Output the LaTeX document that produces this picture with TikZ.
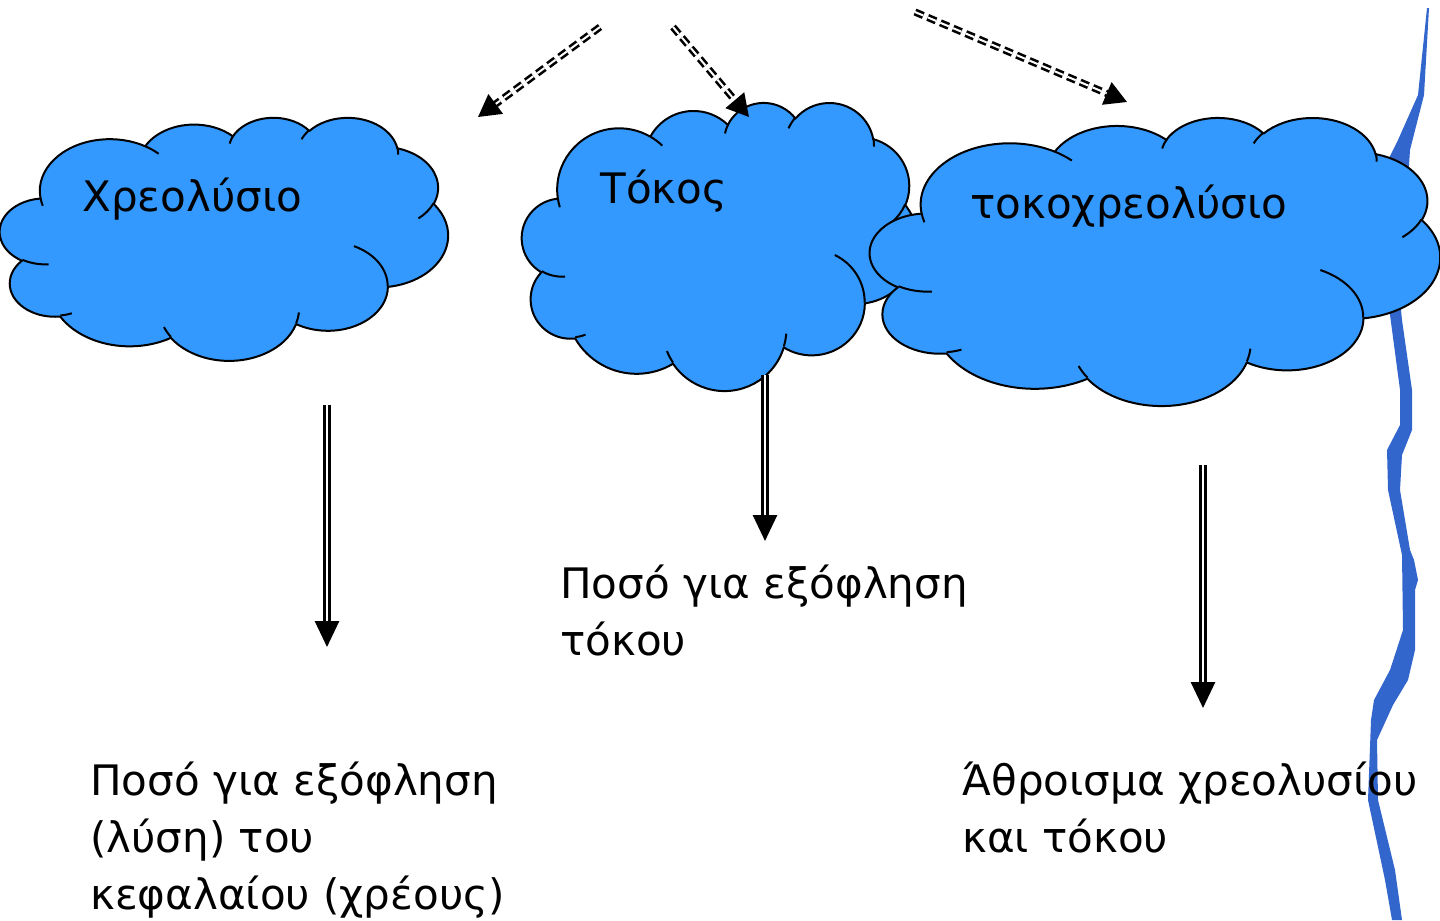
\documentclass[tikz,border=0pt]{standalone}
\usepackage{fontspec}
\setmainfont{DejaVu Sans}
\usepackage{xcolor}
\usepackage{tikz}
\usetikzlibrary{arrows.meta, positioning}
\definecolor{cloudblue}{RGB}{51, 153, 255}
\definecolor{ribbonblue}{RGB}{51, 102, 204}

\tikzset{
  cloudline/.style={draw=black, line width=1bp, line join=round},
  dashlink/.style={double, double distance=1bp, line width=1.3bp, dash pattern=on 4.5bp off 2.4bp, -{Triangle[length=11bp,width=12bp]}},
  downlink/.style={double, double distance=1bp, line width=1.4bp, -{Triangle[length=13bp,width=12bp]}},
  gtext/.style={inner sep=0pt, anchor=base west, align=left, font=\fontsize{21bp}{28.5bp}\selectfont}
}

% elliptic arc: x radius, y radius, start and sweep as seen on the page
\newcommand\parc[4]{arc[x radius=#1, y radius=#2,
  start angle={atan2((#1)*sin(#3),(#2)*cos(#3))},
  delta angle={mod(atan2((#1)*sin((#3)+(#4)),(#2)*cos((#3)+(#4)))-atan2((#1)*sin(#3),(#2)*cos(#3))+540,360)-180}]}

% cloud in a 100 x 100 box
\newcommand\bluecloud{%
  \fill[cloudblue, cloudline] (9.028,33.264)
    \parc{15.632}{21.273}{-190.4875}{123.7805}
    \parc{12.345}{16.822}{-144.1024}{89.9452}
    \parc{10.104}{13.762}{-145.8079}{99.7230}
    \parc{11.243}{15.266}{-130.9861}{117.2417}
    \parc{12.345}{16.836}{-78.7089}{109.0269}
    \parc{15.683}{21.343}{-46.2673}{130.2690}
    \parc{13.391}{18.211}{0.6250}{114.0333}
    \parc{15.630}{21.331}{22.4516}{115.1726}
    \parc{17.870}{24.405}{66.2426}{75.7110}
    \parc{10.093}{13.699}{-274.9421}{146.7356}
    \parc{10.058}{13.762}{-246.8285}{152.5189} -- cycle;
  \draw[cloudline]
    (10.863,60.595) \parc{10.058}{13.762}{86.742}{26.4295}
    (16.037,80.785) \parc{10.093}{13.699}{73.6105}{11.4475}
    (38.144,90.486) \parc{15.630}{21.331}{137.6242}{14.0811}
    (66.729,80.442) \parc{15.630}{21.331}{6.4533}{15.9984}
    (79.002,53.134) \parc{13.391}{18.211}{-70.2924}{70.9174}
    (96.755,35.542) \parc{12.345}{16.836}{30.3180}{27.7515}
    (88.713,12.560) \parc{11.243}{15.266}{-13.7443}{14.8589}
    (67.310,9.148) \parc{11.243}{15.266}{-149.1815}{18.1954}
    (51.252,10.926) \parc{10.104}{13.762}{-163.4943}{17.6864}
    (32.407,12.019) \parc{15.632}{21.273}{-66.7070}{12.3194}
    (9.553,36.549) \parc{15.632}{21.273}{157.6544}{11.8582};
}

\begin{document}
\begin{tikzpicture}[x=0.5bp, y=-0.5bp]
    \useasboundingbox (0,0) rectangle (1440,920);

    % Ribbon on the right
    \fill[ribbonblue] (1427,8) -- (1418,95) -- (1398,140) -- (1388,160) -- (1385,300) -- (1390,315)
        -- (1400,390) -- (1400,425) -- (1387,450) -- (1388,490) -- (1402,555) -- (1403,630)
        -- (1390,670) -- (1374,700) -- (1371,720) -- (1368,800) -- (1385,880) -- (1392,920)
        -- (1402,920) -- (1395,870) -- (1378,800) -- (1377,740) -- (1393,705) -- (1408,680)
        -- (1415,650) -- (1415,590) -- (1418,580) -- (1414,560) -- (1410,550) -- (1400,490)
        -- (1402,455) -- (1412,430) -- (1412,390) -- (1402,320) -- (1400,300) -- (1410,150)
        -- (1424,95) -- (1429,8) -- cycle;

    % Clouds
    \begin{scope}[shift={(0,117)}, xscale=4.48, yscale=2.43]
        \bluecloud
        \coordinate (xcloud) at (50,50);
    \end{scope}
    \begin{scope}[shift={(522,102)}, xscale=3.96, yscale=2.88]
        \bluecloud
        \coordinate (tcloud) at (50,50);
    \end{scope}
    \begin{scope}[shift={(870,117)}, xscale=5.70, yscale=2.88]
        \bluecloud
        \coordinate (ttcloud) at (50,50);
    \end{scope}

    % Cloud titles
    \node[gtext] (xtitle) at (82,211) {Χρεολύσιο};
    \node[gtext] (ttitle) at (600,203) {Τόκος};
    \node[gtext] (tttitle) at (970,218) {τοκοχρεολύσιο};

    % Dashed arrows from the top
    \coordinate (topA) at (600,27);
    \coordinate (tipA) at (478,117);
    \coordinate (topB) at (673,27);
    \coordinate (tipB) at (749,117);
    \coordinate (topC) at (915,12);
    \coordinate (tipC) at (1127,102);
    \draw[dashlink] (topA) -- (tipA);
    \draw[dashlink] (topB) -- (tipB);
    \draw[dashlink] (topC) -- (tipC);

    % Arrows down
    \coordinate (xfrom) at (327,405);
    \coordinate (xto) at (327,647);
    \coordinate (tfrom) at (765,375);
    \coordinate (tto) at (765,541);
    \coordinate (ttfrom) at (1203,465);
    \coordinate (ttto) at (1203,708);
    \draw[downlink] (xfrom) -- (xto);
    \draw[downlink] (tfrom) -- (tto);
    \draw[downlink] (ttfrom) -- (ttto);

    % Texts below
    \node[gtext] (xtext) at (90,909) {Ποσό για εξόφληση\\(λύση) του\\κεφαλαίου (χρέους)};
    \node[gtext] (ttext) at (560,655) {Ποσό για εξόφληση\\τόκου};
    \node[gtext] (tttext) at (962,852) {Άθροισμα χρεολυσίου\\και τόκου};
\end{tikzpicture}
\end{document}
